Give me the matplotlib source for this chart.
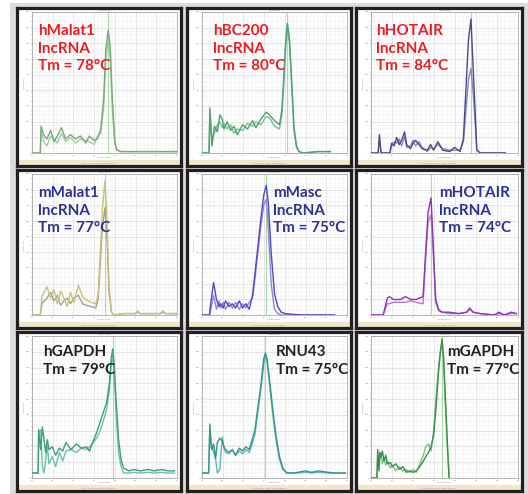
import matplotlib
matplotlib.use("Agg")
import matplotlib.pyplot as plt
from matplotlib.patches import Rectangle
from matplotlib.ticker import MultipleLocator
import numpy as np

W, H = 528, 494

# ---- data (temperature in C, normalised -dF/dT) ----
names = ["hMalat1\nlncRNA\nTm = 78°C", "hBC200\nlncRNA\nTm = 80°C", "hHOTAIR\nlncRNA\nTm = 84°C",
         "mMalat1\nlncRNA\nTm = 77°C", "mMasc\nlncRNA\nTm = 75°C", "mHOTAIR\nlncRNA\nTm = 74°C",
         "hGAPDH\nTm = 79°C", "RNU43\nTm = 75°C", "mGAPDH\nTm = 77°C"]
tms = [78.4, 80.6, 83.8, 77.6, 75.5, 74.3, 79.5, 75.3, 76.9]

hmalat1_t = [60, 62.0, 62.2, 62.8, 63.6, 64.5, 65.3, 66.1, 67.1, 68.1, 69.3, 70.5, 71.7, 73.0, 73.8,
             75.0, 75.8, 76.6, 77.3, 77.8, 78.4, 78.9, 79.4, 80.0, 80.5, 81.5, 85, 90, 95]
hmalat1_a = [0, 0, 0.19, 0.13, 0.10, 0.16, 0.08, 0.12, 0.18, 0.10, 0.13, 0.10, 0.12, 0.07, 0.12,
             0.09, 0.10, 0.17, 0.38, 0.73, 0.87, 0.75, 0.38, 0.08, 0.02, 0.01, 0.01, 0.01, 0.01]
hmalat1_b = [0, 0, 0.16, 0.08, 0.05, 0.12, 0.10, 0.07, 0.14, 0.08, 0.11, 0.07, 0.10, 0.09, 0.08,
             0.06, 0.12, 0.14, 0.32, 0.65, 0.80, 0.66, 0.30, 0.06, 0.02, 0.01, 0.01, 0.01, 0.01]

hbc200_t = [60, 61.7, 61.9, 62.4, 63.0, 63.7, 64.3, 64.9, 65.3, 66.1, 66.9, 67.7, 68.5, 69.8, 71.0,
            72.2, 73.0, 74.2, 75.5, 76.3, 77.5, 78.7, 79.3, 79.8, 80.2, 80.6, 81.1, 81.6, 82.2, 82.8,
            83.4, 84.4, 88, 91]
hbc200_a = [0, 0, 0.32, 0.05, 0.19, 0.15, 0.27, 0.24, 0.17, 0.22, 0.16, 0.19, 0.13, 0.20, 0.17,
            0.23, 0.18, 0.24, 0.29, 0.27, 0.23, 0.20, 0.31, 0.57, 0.80, 0.92, 0.82, 0.54, 0.19, 0.05,
            0.01, 0, 0.01, 0.01]
hbc200_b = [0, 0, 0.27, 0.10, 0.14, 0.20, 0.22, 0.18, 0.21, 0.17, 0.20, 0.14, 0.17, 0.16, 0.21,
            0.19, 0.22, 0.20, 0.26, 0.25, 0.19, 0.17, 0.27, 0.52, 0.76, 0.88, 0.78, 0.50, 0.16, 0.04,
            0.01, 0, 0.01, 0.01]

hhotair_t = [60, 61.7, 62.0, 62.4, 64.5, 64.9, 65.5, 66.1, 66.7, 67.3, 68.0, 68.5, 69.4, 70.0, 70.6,
             71.4, 72.2, 73.4, 74.2, 74.9, 75.9, 77.1, 78.7, 79.9, 81.2, 82.0, 82.6, 83.2, 83.8, 84.4,
             85.2, 86, 88, 90, 92]
hhotair_a = [0, 0, 0.13, 0, 0, 0.07, 0.05, 0.11, 0.06, 0.09, 0.15, 0.06, 0.03, 0.07, 0.09,
             0.06, 0.03, 0.02, 0.06, 0.02, 0.08, 0.02, 0.01, 0.04, 0.01, 0.10, 0.45, 0.80, 0.95, 0.55,
             0.02, 0, 0, 0, 0]
hhotair_b = [0, 0, 0.10, 0, 0, 0.05, 0.08, 0.07, 0.10, 0.05, 0.12, 0.04, 0.05, 0.09, 0.05,
             0.08, 0.04, 0.01, 0.04, 0.03, 0.06, 0.03, 0.02, 0.02, 0.02, 0.08, 0.30, 0.52, 0.60, 0.40,
             0.02, 0, 0, 0, 0]

mmalat1_t = [60, 62.0, 62.4, 63.6, 64.5, 65.3, 66.1, 66.9, 67.7, 68.5, 69.3, 70.1, 71.2, 72.2, 73.0,
             74.2, 75.4, 76.0, 76.4, 77.0, 77.6, 78.1, 78.6, 79.2, 79.8, 82, 85.0, 85.5, 86.0, 88,
             91.0, 91.6, 92.2, 95]
mmalat1_a = [0, 0, 0.13, 0.20, 0.12, 0.18, 0.08, 0.17, 0.12, 0.06, 0.16, 0.09, 0.21, 0.13, 0.11,
             0.09, 0.08, 0.15, 0.39, 0.75, 0.95, 0.68, 0.20, 0.02, 0, 0.01, 0.01, 0.03, 0.01, 0.01,
             0.01, 0.03, 0.01, 0.01]
mmalat1_b = [0, 0, 0.08, 0.12, 0.16, 0.10, 0.14, 0.07, 0.10, 0.12, 0.08, 0.12, 0.14, 0.08, 0.07,
             0.06, 0.05, 0.12, 0.33, 0.62, 0.76, 0.55, 0.16, 0.02, 0, 0.01, 0.01, 0.02, 0.01, 0.01,
             0.01, 0.02, 0.01, 0.01]

mmasc_t = [60, 61.8, 62.0, 62.8, 63.5, 64.1, 64.5, 65.1, 65.7, 66.5, 67.3, 68.1, 69.0, 69.8, 70.6,
           71.4, 72.2, 72.8, 73.4, 74.2, 74.9, 75.5, 76.0, 76.7, 77.5, 78.3, 79.1, 80.1, 84, 88, 92]
mmasc_a = [0, 0, 0.06, 0.23, 0.11, 0.06, 0.08, 0.05, 0.10, 0.06, 0.08, 0.05, 0.10, 0.05, 0.08,
           0.04, 0.14, 0.30, 0.46, 0.68, 0.85, 0.92, 0.80, 0.44, 0.15, 0.06, 0.02, 0.01, 0, 0, 0]
mmasc_b = [0, 0, 0.02, 0.14, 0.04, 0.10, 0.05, 0.09, 0.04, 0.09, 0.05, 0.09, 0.04, 0.08, 0.05,
           0.09, 0.12, 0.26, 0.42, 0.63, 0.78, 0.82, 0.62, 0.22, 0.04, 0.01, 0, 0, 0, 0, 0]

mhotair_t = [60, 62.9, 63.9, 64.4, 65.4, 67.0, 68.2, 69.5, 70.7, 72.4, 72.9, 73.6, 74.3, 74.8, 75.4,
             76.1, 76.9, 78.5, 81.0, 82.8, 83.5, 84.3, 86.0, 89.3, 90.5, 91.7, 93.4, 94.6]
mhotair_a = [0, 0, 0.12, 0.13, 0.11, 0.11, 0.13, 0.11, 0.11, 0.13, 0.39, 0.73, 0.83, 0.51, 0.11,
             0.04, 0.02, 0.02, 0.01, 0.02, 0.05, 0.02, 0.01, 0, 0.02, 0, 0.02, 0.01]
mhotair_b = [0, 0, 0.08, 0.08, 0.09, 0.09, 0.09, 0.10, 0.09, 0.08, 0.35, 0.66, 0.71, 0.45, 0.09,
             0.03, 0.02, 0.01, 0.01, 0.02, 0.04, 0.02, 0.01, 0, 0.01, 0, 0.01, 0.01]

hgapdh_t = [60, 61.5, 61.6, 62.1, 62.5, 62.9, 63.3, 63.7, 64.1, 64.9, 65.7, 66.6, 67.4, 68.2, 69.4,
            70.7, 71.9, 73.1, 73.9, 74.8, 75.6, 76.4, 77.2, 78.0, 78.7, 79.1, 79.5, 79.8, 80.3, 80.9,
            81.5, 82.1, 83.4, 84.6, 86.2, 87.9, 89.5, 91.2, 92.8, 94.4]
hgapdh_a = [0.035, 0.035, 0.34, 0.20, 0.36, 0.27, 0.18, 0.27, 0.20, 0.22, 0.16, 0.21, 0.19, 0.25, 0.20,
            0.24, 0.21, 0.22, 0.19, 0.26, 0.32, 0.39, 0.46, 0.53, 0.67, 0.84, 0.91, 0.81, 0.55, 0.27,
            0.13, 0.07, 0.05, 0.06, 0.05, 0.06, 0.05, 0.06, 0.05, 0.05]
hgapdh_b = [0.035, 0.035, 0.32, 0.34, 0.08, 0.035, 0.13, 0.22, 0.10, 0.15, 0.08, 0.18, 0.12, 0.19, 0.20,
            0.18, 0.21, 0.20, 0.22, 0.25, 0.28, 0.33, 0.40, 0.48, 0.62, 0.79, 0.87, 0.76, 0.46, 0.18,
            0.08, 0.035, 0.035, 0.04, 0.035, 0.04, 0.035, 0.04, 0.035, 0.035]

rnu43_t = [60, 61.6, 61.9, 62.2, 62.4, 62.8, 63.3, 63.7, 64.3, 64.9, 65.3, 65.7, 66.5, 67.3, 68.1,
           69.0, 69.8, 70.6, 71.4, 72.2, 72.8, 73.4, 74.2, 74.9, 75.3, 75.7, 76.3, 77.1, 77.9, 78.7,
           79.5, 80.4, 81.6, 83.2, 84.8, 86.5, 88.1, 90.5, 92.2, 94.6]
rnu43_a = [0.035, 0.035, 0.38, 0.22, 0.20, 0.24, 0.14, 0.25, 0.28, 0.26, 0.22, 0.20, 0.18, 0.20, 0.16,
           0.21, 0.19, 0.22, 0.20, 0.28, 0.34, 0.48, 0.65, 0.84, 0.88, 0.84, 0.69, 0.48, 0.29, 0.15,
           0.07, 0.035, 0.035, 0.04, 0.05, 0.04, 0.05, 0.04, 0.035, 0.035]
rnu43_b = [0.035, 0.035, 0.34, 0.26, 0.22, 0.18, 0.13, 0.035, 0.06, 0.29, 0.21, 0.18, 0.17, 0.20, 0.16,
           0.19, 0.17, 0.20, 0.18, 0.25, 0.31, 0.45, 0.62, 0.80, 0.87, 0.82, 0.66, 0.44, 0.26, 0.13,
           0.06, 0.04, 0.035, 0.035, 0.04, 0.035, 0.04, 0.035, 0.035, 0.035]

mgapdh_t = [60, 61.4, 61.6, 61.9, 62.1, 62.4, 62.7, 63.1, 63.5, 63.9, 64.6, 65.1, 65.9, 66.8, 67.6,
            68.4, 69.2, 70.0, 70.8, 71.6, 72.5, 73.0, 73.7, 74.3, 74.9, 75.5, 76.0, 76.5, 76.9, 77.3,
            77.7, 78.2, 78.6]
mgapdh_a = [0, 0, 0.20, 0.05, 0.18, 0.15, 0.19, 0.12, 0.16, 0.10, 0.11, 0.08, 0.10, 0.06, 0.08,
            0.04, 0.05, 0.04, 0.05, 0.08, 0.12, 0.15, 0.18, 0.22, 0.30, 0.50, 0.72, 0.88, 0.98, 0.85,
            0.57, 0.24, 0]
mgapdh_b = [0, 0, 0.16, 0.08, 0.13, 0.18, 0.10, 0.14, 0.09, 0.12, 0.07, 0.09, 0.05, 0.08, 0.05,
            0.06, 0.04, 0.06, 0.04, 0.10, 0.16, 0.22, 0.24, 0.19, 0.33, 0.57, 0.75, 0.89, 0.95, 0.80,
            0.52, 0.20, 0]

temps = [hmalat1_t, hbc200_t, hhotair_t, mmalat1_t, mmasc_t, mhotair_t, hgapdh_t, rnu43_t, mgapdh_t]
rep_a = [hmalat1_a, hbc200_a, hhotair_a, mmalat1_a, mmasc_a, mhotair_a, hgapdh_a, rnu43_a, mgapdh_a]
rep_b = [hmalat1_b, hbc200_b, hhotair_b, mmalat1_b, mmasc_b, mhotair_b, hgapdh_b, rnu43_b, mgapdh_b]

# ---- styling ----
line_cols = [("#7fa67f", "#9bd49b"), ("#4f9f72", "#72c48f"), ("#4a4a86", "#8888c8"),
             ("#c9c07c", "#a3a58e"), ("#5548c0", "#8f88da"), ("#8a35b5", "#b877d6"),
             ("#3f9c80", "#6cc2a4"), ("#34958c", "#62b9ae"), ("#3d8c4c", "#7cc47c")]
text_cols = ["#ec1c24"] * 3 + ["#2e3192"] * 3 + ["#231f20"] * 3
# text offset (px) inside each panel
text_off = [(21, 16), (26, 16), (20, 16), (21, 16), (86, 16), (83, 16), (26, 13), (89, 13), (91, 13)]

cols = [(17, 181), (187, 351), (356, 522)]
rows = [(8, 166), (170, 328), (332, 491)]


def box(l, t, r, b):
    return [l / W, 1 - b / H, (r - l) / W, (b - t) / H]


fig = plt.figure(figsize=(W / 100, H / 100), dpi=100)
fig.patch.set_facecolor("white")
bg = fig.add_axes([10 / W, 0, 518 / W, 491 / H], zorder=-5)
bg.set_facecolor("#dcdcdc")
bg.set_xticks([])
bg.set_yticks([])
for s in bg.spines.values():
    s.set_visible(False)

for i in range(9):
    l, r = cols[i % 3]
    t, b = rows[i // 3]

    # panel frame
    axf = fig.add_axes(box(l, t, r, b))
    axf.set_xlim(0, 1)
    axf.set_ylim(0, 1)
    axf.set_xticks([])
    axf.set_yticks([])
    for s in axf.spines.values():
        s.set_linewidth(2.3)
        s.set_color("#231f20")
    axf.add_patch(Rectangle((0, 0), 1, 6 / (b - t), color="#efe6cc", zorder=1))
    axf.text(0.5, 3 / (b - t), "Cq 1: 78.0  Cq 2: 78.5  Peak 1", fontsize=1.6, color="#888888",
             ha="center", va="center")

    # melt-peak plot
    ax = fig.add_axes(box(l + 15, t + 4, r - 4, b - 13))
    ax.set_xlim(60, 95)
    ax.set_ylim(0, 1)
    ax.xaxis.set_major_locator(MultipleLocator(5))
    ax.xaxis.set_minor_locator(MultipleLocator(1))
    ax.set_yticks(np.linspace(0, 1, 10))
    ax.yaxis.set_minor_locator(MultipleLocator(1 / 30))
    ax.set_yticklabels([str(v) for v in range(0, 1000, 100)])
    ax.grid(which="major", color="#d6d6d6", lw=0.45)
    ax.grid(which="minor", color="#ececec", lw=0.35)
    ax.set_axisbelow(True)
    ax.tick_params(which="both", length=1, width=0.3, color="#999999", labelsize=1.6,
                   labelcolor="#888888", pad=0.6)
    for s in ax.spines.values():
        s.set_linewidth(0.5)
        s.set_color("#9a9a9a")
    ax.set_title("Melt Peak", fontsize=1.6, color="#888888", pad=0.5)
    ax.set_xlabel("Temperature", fontsize=1.6, color="#888888", labelpad=0.3)
    ax.set_ylabel("-d(RFU)/dT", fontsize=1.6, color="#888888", labelpad=0.5)

    ax.axvline(tms[i], color="#a8dca8", lw=0.8, zorder=1)
    ca, cb = line_cols[i]
    ax.plot(temps[i], rep_b[i], color=cb, lw=1.0, zorder=3)
    ax.plot(temps[i], rep_a[i], color=ca, lw=1.0, zorder=4)

    dx, dy = text_off[i]
    fig.text((l + dx) / W, 1 - (t + dy) / H, names[i], ha="left", va="top",
             color=text_cols[i], fontsize=11, fontweight="bold", family="Lato",
             linespacing=1.32, zorder=10)

fig.savefig("out.png", dpi=100)
